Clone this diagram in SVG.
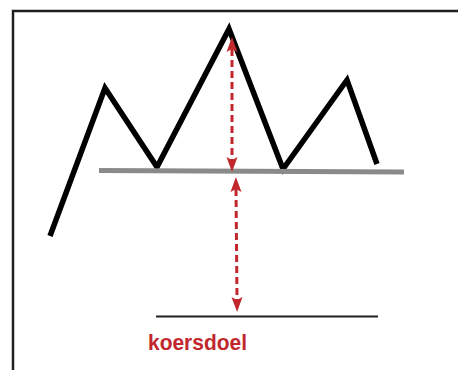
<svg xmlns="http://www.w3.org/2000/svg" width="458" height="370" viewBox="0 0 458 370">
  <style>
    .frame { fill: none; stroke: #231f20; stroke-width: 2.5; }
    .price { fill: none; stroke: #000; stroke-width: 5.5; stroke-linejoin: miter; stroke-miterlimit: 10; }
    .neck { stroke: #8a8a8a; stroke-width: 5; }
    .target { stroke: #231f20; stroke-width: 2.2; }
    .arrow { stroke: #c1272d; stroke-width: 3; stroke-dasharray: 7 4; fill: none; marker-start: url(#ah); marker-end: url(#ah); }
    .label { font-family: "Liberation Sans", Arial, sans-serif; font-weight: bold; font-size: 22px; fill: #c1272d; }
  </style>
  <defs>
    <marker id="ah" markerUnits="userSpaceOnUse" markerWidth="16" markerHeight="12" refX="3" refY="5.5" orient="auto-start-reverse" viewBox="0 0 16 11">
      <path d="M0,0 L15,5.5 L0,11 L3,5.5 z" fill="#c1272d"/>
    </marker>
  </defs>
  <rect width="458" height="370" fill="#fff"/>
  <path class="frame" d="M13,372 L13,11 L460,11"/>
  <g id="price">
    <polyline class="price" points="50,236 105,88 157,167 229,29 283,169 347,80 377,164"/>
  </g>
  <g id="neckline">
    <line class="neck" x1="99" y1="170.5" x2="404" y2="172"/>
  </g>
  <g id="target">
    <line class="target" x1="156" y1="316.5" x2="378" y2="316.5"/>
    <text class="label" x="148" y="350" textLength="99" lengthAdjust="spacingAndGlyphs">koersdoel</text>
  </g>
  <g id="connectors">
    <line class="arrow" x1="232" y1="49" x2="232" y2="160"/>
    <line class="arrow" x1="236" y1="189" x2="237" y2="300"/>
  </g>
</svg>
